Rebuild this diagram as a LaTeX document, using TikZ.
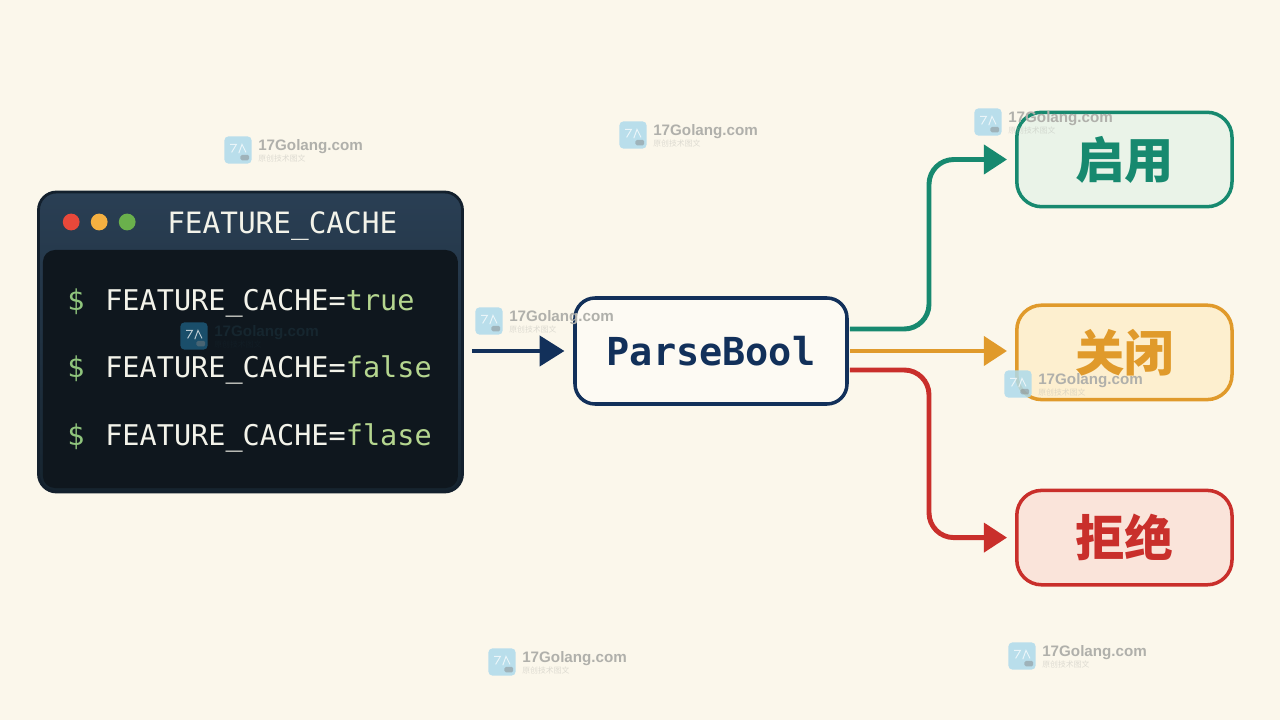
\documentclass[tikz,border=0pt]{standalone}
\usepackage{fontspec}
\setmainfont{Liberation Sans}
\setmonofont{DejaVu Sans Mono}
\newfontfamily\cjk{Noto Sans CJK SC}
\usetikzlibrary{arrows.meta,calc,positioning}

\definecolor{paper}{HTML}{FBF7EB}
\definecolor{navy}{HTML}{12305A}
\definecolor{bartop}{HTML}{2A3F54}
\definecolor{barlow}{HTML}{16242F}
\definecolor{barline}{HTML}{13202D}
\definecolor{panel}{HTML}{0F171E}
\definecolor{termink}{HTML}{F3F3EA}
\definecolor{shellgreen}{HTML}{8FC47C}
\definecolor{valuegreen}{HTML}{B5D68F}
\definecolor{dotred}{HTML}{E8483A}
\definecolor{dotamber}{HTML}{F5B041}
\definecolor{dotgreen}{HTML}{6AB04C}
\definecolor{teal}{HTML}{17896F}
\definecolor{tealfill}{HTML}{EAF3E8}
\definecolor{amber}{HTML}{E09A2B}
\definecolor{amberfill}{HTML}{FDEFCF}
\definecolor{brick}{HTML}{C92F2B}
\definecolor{brickfill}{HTML}{FAE4DA}
\definecolor{stampface}{HTML}{AEDAEB}
\definecolor{stampdim}{HTML}{1C5878}
\definecolor{stampink}{HTML}{B0B0AB}
\definecolor{stampdark}{HTML}{16262F}

\tikzset{
  shellbox/.style={draw=barline, top color=bartop, bottom color=barlow, line width=2pt, rounded corners=0.45cm,
    minimum width=10.6cm, minimum height=7.5cm, inner sep=0},
  panelbox/.style={fill=panel, rounded corners=0.3cm,
    minimum width=10.375cm, minimum height=5.95cm, inner sep=0},
  termtext/.style={anchor=base west, inner sep=0, font=\ttfamily\fontsize{20.3}{24}\selectfont},
  parsebox/.style={draw=navy, fill=paper!60!white, line width=2.5pt, rounded corners=0.5cm,
    minimum width=6.8cm, minimum height=2.65cm, text=navy,
    font=\ttfamily\bfseries\fontsize{27.4}{32}\selectfont},
  result/.style 2 args={draw=#1, fill=#2, text=#1, line width=2.5pt, rounded corners=0.62cm,
    minimum width=5.38cm, minimum height=2.36cm,
    font=\cjk\bfseries\fontsize{35}{40}\selectfont},
  flow/.style={draw=#1, line width=3.5pt, rounded corners=0.62cm,
    -{Triangle[length=0.58cm,width=0.72cm]}, shorten >=0.2cm},
  pics/stamp/.style 2 args={code={
    \fill[#1, opacity=0.85, rounded corners=0.1cm] (-0.34,-0.34) rectangle (0.34,0.34);
    \draw[white, line width=0.7pt, opacity=0.7] (-0.2,0.14) -- (-0.04,0.14) -- (-0.16,-0.06)
      (0.02,-0.08) -- (0.1,0.14) -- (0.2,-0.06);
    \fill[gray, opacity=0.45, rounded corners=0.04cm] (0.06,-0.26) rectangle (0.28,-0.12);
    \node[anchor=west, inner sep=0, text=#2, font=\bfseries\fontsize{10.8}{12}\selectfont] (-name) at (0.5,0.075) {17Golang.com};
    \node[anchor=west, inner sep=0, text=#2, opacity=0.4, font=\cjk\fontsize{5.6}{6}\selectfont] (-sub) at (0.5,-0.21) {原创技术图文};
  }}
}

\begin{document}
\begin{tikzpicture}[>=Latex]
  \fill[paper] (0,0) rectangle (32,18);
  \useasboundingbox (0,0) rectangle (32,18);

  % terminal window
  \node[shellbox] (term) at (6.2625,9.45) {};
  \node[panelbox] (panel) at (6.26,8.775) {};
  \fill[dotred] (1.78,12.45) circle (0.21);
  \fill[dotamber] (2.48,12.45) circle (0.21);
  \fill[dotgreen] (3.18,12.45) circle (0.21);
  \node[termtext, text=termink, font=\ttfamily\fontsize{20.9}{24}\selectfont] (title) at (4.175,12.15) {FEATURE\_CACHE};

  \foreach \name/\ypos/\val in {one/10.225/true, two/8.55/false, three/6.85/flase} {
    \node[termtext, text=shellgreen] (prompt\name) at (1.675,\ypos) {\$};
    \node[termtext, text=termink] (cmd\name) at (2.625,\ypos) {FEATURE\_CACHE=\textcolor{valuegreen}{\val}};
  }

  % parser and outcomes
  \node[parsebox] (parse) at (17.775,9.225) {ParseBool};
  \node[result={teal}{tealfill}] (on) at (28.11,14.0125) {启用};
  \node[result={amber}{amberfill}] (off) at (28.11,9.19) {关闭};
  \node[result={brick}{brickfill}] (deny) at (28.11,4.56) {拒绝};

  \coordinate (upper) at (23.225,11);
  \coordinate (lower) at (23.225,7);

  \draw[navy, line width=3pt, -{Triangle[length=0.62cm,width=0.75cm]}, shorten <=0.2cm, shorten >=0.22cm]
    (term.east |- parse.west) -- (parse.west);
  \draw[flow=teal] ($(parse.east)+(0.03,0.55)$) -| (upper) |- (on.west);
  \draw[flow=amber] ($(parse.east)+(0.03,0)$) -- (off.west |- parse.east);
  \draw[flow=brick] ($(parse.east)+(0.03,-0.475)$) -| (lower) |- (deny.west);

  % watermarks
  \pic (marka) at (5.95,14.25) {stamp={stampface}{stampink}};
  \pic (markb) at (15.825,14.625) {stamp={stampface}{stampink}};
  \pic (markc) at (24.7,14.95) {stamp={stampface}{stampink}};
  \pic (markd) at (12.225,9.975) {stamp={stampface}{stampink}};
  \pic (marke) at (4.85,9.6) {stamp={stampdim}{stampdark}};
  \pic (markf) at (25.45,8.4) {stamp={stampface}{stampink}};
  \pic (markg) at (12.55,1.45) {stamp={stampface}{stampink}};
  \pic (markh) at (25.55,1.6) {stamp={stampface}{stampink}};
\end{tikzpicture}
\end{document}
